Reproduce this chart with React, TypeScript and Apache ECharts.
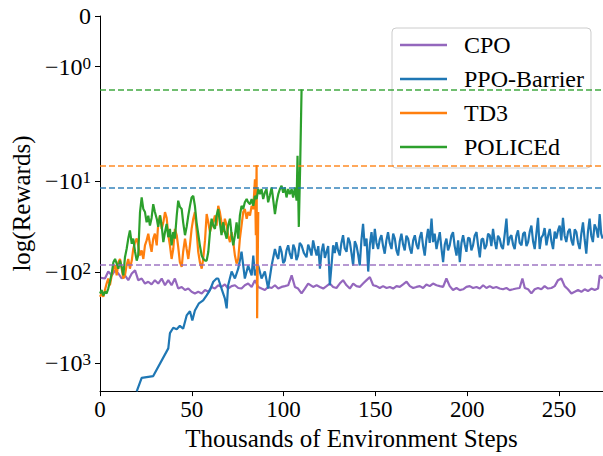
import { useEffect, useRef } from "react";
import * as echarts from "echarts";

// ---- data: [thousands of steps, reward] ----
const cpo: [number, number][] = [
  [0.5,-116],[2.7,-118],[4.5,-99],[6.4,-109],[8.2,-96],[10,-104],[11.8,-118],[13.6,-109],[15.4,-123],[17.3,-104],
  [19.1,-96],[20,-109],[20.8,-123],[22.7,-118],[24.5,-134],[26.3,-128],[28.1,-137],[29.9,-123],[31.7,-134],[33.6,-118],
  [35.4,-140],[37.2,-123],[39,-140],[40.8,-118],[42.6,-152],[44.5,-146],[46.3,-158],[48.1,-152],[49.9,-165],[51.7,-172],
  [53.5,-165],[55.4,-172],[57.2,-158],[59,-165],[60.8,-146],[62.6,-152],[64.4,-140],[66.2,-146],[68,-137],[69.8,-152],
  [71.7,-143],[73.5,-140],[75.3,-150],[77.1,-152],[78.9,-140],[80.7,-134],[82.6,-146],[84.4,-123],[86.2,-146],[88,-152],
  [89.8,-158],[91.6,-146],[93.5,-150],[95.3,-140],[97.1,-152],[98.9,-146],[100.7,-143],[102.5,-140],[104.4,-109],[106.2,-146],
  [107.9,-152],[109.8,-172],[111.6,-152],[113.4,-134],[116.1,-146],[118,-140],[119.8,-146],[121.6,-152],[123.4,-143],[125.2,-134],
  [127,-146],[128.8,-150],[130.6,-134],[132.4,-123],[134.3,-140],[136.1,-152],[137.9,-134],[139.7,-143],[141.5,-146],[143.3,-134],
  [145.2,-123],[147,-114],[148.8,-140],[150.6,-143],[152.4,-150],[154.2,-143],[156.1,-150],[157.9,-146],[159.7,-152],[161.5,-143],
  [163.3,-146],[165.1,-137],[167,-128],[168.8,-143],[170.6,-150],[172.4,-146],[174.2,-143],[176,-150],[177.8,-137],[179.6,-143],
  [181.4,-134],[183.3,-140],[185.1,-143],[186.9,-146],[188.7,-118],[190.5,-143],[192.3,-158],[194.2,-150],[196,-158],[197.8,-155],
  [199.6,-146],[201.4,-143],[203.2,-150],[205.1,-146],[206.9,-152],[208.7,-140],[210.5,-150],[212.3,-143],[214.1,-150],[215.9,-146],
  [217.7,-152],[219.5,-155],[221.4,-150],[223.2,-158],[225,-155],[226.8,-152],[228.6,-150],[230.1,-118],[231.4,-150],[233.2,-155],
  [235,-172],[236.8,-155],[238.6,-150],[240.4,-155],[242.2,-143],[244,-152],[245.9,-150],[247.7,-143],[249.5,-123],[251.3,-118],
  [253.1,-143],[254.9,-155],[256.8,-172],[258.6,-165],[260.4,-158],[262.2,-165],[264,-155],[265.8,-162],[267.7,-152],[269.5,-158],
  [271.3,-152],[272.2,-109],[273.8,-118],
];

const ppoBarrier: [number, number][] = [
  [20,-2050],[22.7,-1455],[29,-1390],[37.2,-690],[38.1,-470],[39.9,-410],[41.8,-425],[43.5,-390],[45.3,-420],[47.2,-300],
  [49,-270],[50.3,-340],[51.7,-265],[53.9,-221],[56.2,-205],[58.1,-181],[59.9,-158],[61.7,-128],[63.5,-118],[64.4,-118],
  [66.2,-152],[68,-195],[69,-251],[69.8,-140],[71.7,-99],[73.5,-118],[75.3,-92],[77.1,-60],[78.9,-118],[80.7,-85],
  [82.6,-109],[83.5,-66],[84.4,-109],[86.2,-85],[88,-118],[89.8,-99],[91.6,-152],[93.5,-85],
  [95.3,-56],[96.2,-66],[97.1,-72],[98,-52],[98.9,-60],[99.8,-80],[100.7,-75],[101.6,-58],[102.5,-51],[103.4,-63],
  [104.4,-72],[105.3,-50],[106.2,-56],[107,-74],[107.9,-66],[108.8,-48],[109.8,-51],[111.1,-62],[112.5,-69],[113.4,-50],
  [114.3,-56],[115.2,-66],[116.1,-45],[117,-55],[118,-66],[118.9,-52],[119.8,-92],[120.7,-60],[121.6,-49],[122.5,-70],
  [123.4,-60],[124.3,-52],[125.2,-140],[126.1,-85],[127,-51],[127.9,-62],[128.8,-47],[129.7,-58],[130.6,-66],[131.5,-48],
  [132.4,-39.5],[133.3,-55],[134.3,-60],[135.2,-42],[136.1,-47],[137,-62],[137.9,-85],[138.8,-46],[139.7,-51],[140.6,-64],
  [141.5,-85],[142.4,-45],[143.3,-29.7],[144.2,-52],[145.2,-43],[146.1,-99],[147,-50],[147.9,-36.5],[148.8,-56],[149.7,-33.7],
  [150.6,-48],[151.5,-56],[152.4,-44],[153.3,-39.5],[154.2,-52],[155.1,-63],[156,-45],[156.9,-36.5],[157.8,-48],[158.8,-56],
  [159.7,-38],[160.6,-43],[161.5,-58],[162.4,-66],[163.3,-46],[164.2,-38],[165.1,-50],[166,-58],[166.9,-40],[167.8,-43],
  [168.8,-55],[169.7,-63],[170.6,-45],[171.5,-39.5],[172.4,-50],[173.3,-56],[174.2,-42],[175.1,-36.5],[176,-52],[176.9,-66],
  [177.8,-44],[178.7,-33.7],[179.6,-48],[180.6,-26],[181.4,-47],[182.3,-38],[183.3,-56],[184.2,-45],[185.1,-36.5],[186,-55],
  [186.9,-78],[187.8,-50],[188.7,-43],[189.6,-58],[190.5,-51],[191.4,-40],[192.3,-36.5],[193.2,-52],[194.2,-66],[195.1,-45],
  [196,-78],[196.9,-48],[197.8,-39.5],[198.7,-50],[199.6,-60],[200.5,-42],[201.4,-43],[202.3,-58],[203.2,-51],[204.1,-40],
  [205.1,-36.5],[206,-52],[206.9,-69],[207.8,-44],[208.7,-43],[209.6,-56],[210.5,-51],[211.4,-38],[212.3,-39.5],[213.2,-52],
  [214.1,-33.7],[215,-46],[215.9,-56],[216.8,-40],[217.7,-43],[218.6,-52],[219.5,-56],[220.5,-38],[221.4,-26],[222.3,-51],
  [223.2,-42],[224.1,-39.5],[225,-50],[225.9,-56],[226.8,-40],[227.7,-35],[228.6,-48],[229.6,-51],[230.5,-38],[231.4,-36.5],
  [232.3,-52],[233.2,-47],[234.1,-36],[235,-31],[235.9,-46],[236.8,-56],[237.7,-38],[238.6,-25.5],[239.5,-56],[240.4,-42],
  [241.3,-39.5],[242.2,-33],[243.2,-51],[244.1,-40],[245,-33.7],[245.9,-46],[246.8,-56],[247.7,-36],[248.6,-43],[249.5,-35],
  [250.4,-31],[251.3,-45],[252.2,-25.5],[253.1,-40],[254,-47],[255,-36],[255.9,-33.7],[256.8,-45],[257.7,-51],[258.6,-34],
  [259.5,-36.5],[260.4,-48],[261.3,-56],[262.2,-38],[263.1,-28.5],[264,-44],[264.9,-63],[265.8,-36],[266.7,-26],[267.6,-40],
  [268.5,-47],[269.4,-30],[270.4,-33.7],[271.3,-42],[272.2,-23.1],[273,-38],[273.8,-43],
];

const td3: [number, number][] = [
  [0,-187],[0.9,-172],[1.8,-187],[2.7,-158],[3.6,-134],[4.5,-118],[5.4,-140],[6.4,-109],[7.3,-92],[8.2,-84],
  [9.1,-109],[10,-78],[10.9,-72],[11.8,-92],[12.7,-118],[13.6,-109],[14.5,-84],[15.4,-72],[16.3,-92],[17.3,-75],
  [18.1,-56],[19.1,-47],[20,-43],[20.8,-51],[21.8,-66],[22.7,-58],[23.6,-72],[24.5,-51],[25.4,-45],[26.3,-38],
  [27.2,-49],[28.1,-60],[29,-43],[29.9,-38],[30.9,-51],[31.7,-29.7],[32.7,-24],[33.6,-33.7],[34.5,-28.5],[35.4,-22],
  [36.3,-25.5],[37.2,-39.5],[38.1,-51],[39,-72],[39.9,-56],[40.8,-33.7],[41.8,-39.5],[42.6,-53],[43.5,-78],[44.5,-88],
  [45.3,-60],[46.3,-43],[47.2,-56],[48.1,-72],[49,-51],[49.9,-33.7],[50.8,-26],[51.7,-22],[52.6,-35],[53.5,-60],
  [54.4,-78],[55.4,-92],[56.2,-72],[57.2,-45],[58.1,-23.1],[59,-28.5],[59.9,-36.5],[60.8,-31],[61.7,-28.5],[62.6,-24],
  [63.5,-31],[64.4,-18.8],[65.3,-22],[66.2,-28.5],[67.1,-36.5],[68,-26],[69,-31],[69.8,-39.5],[70.8,-47],[71.7,-36.5],
  [72.6,-47],[73.5,-66],[74.4,-81],[75.3,-72],[76.2,-43],[77.1,-31],[78,-22],[78.9,-20.4],[79.9,-26],[80.7,-22],
  [81.7,-24],[82.6,-18.8],[83.5,-20.4],[84.4,-9.6],[84.9,-39.5],[85.3,-6.7],[85.6,-322],[86.2,-22],
];

const policed: [number, number][] = [
  [0,-172],[0.9,-158],[1.8,-181],[2.7,-165],[3.6,-172],[4.5,-152],[5.4,-128],[6.4,-104],[7.3,-78],[8.2,-72],
  [9.1,-81],[10,-92],[10.9,-75],[11.8,-88],[12.7,-109],[13.6,-69],[14.5,-56],[15.4,-43],[16.3,-35],[17.3,-49],
  [18.1,-43],[19.1,-60],[20,-75],[20.8,-66],[21.8,-22],[22.7,-15.2],[23.6,-20.4],[24.5,-22],[25.4,-28.5],[26.3,-24.1],
  [27.2,-31],[28.1,-25.5],[29,-18],[29.9,-22],[30.9,-26],[31.7,-32],[32.7,-24],[33.6,-31],[34.5,-47],[35.4,-36.5],
  [36.3,-29.7],[37.2,-41.5],[38.1,-33.7],[39,-51],[39.9,-36.5],[40.8,-43],[41.8,-24],[42.6,-16.5],[43.5,-19.3],[44.5,-20.4],
  [45.3,-28.5],[46.3,-39.5],[47.2,-32],[48.1,-24],[49,-18.8],[49.9,-15.2],[50.8,-14.6],[51.7,-18.8],[52.6,-28.5],[53.5,-38],
  [54.4,-51],[55.4,-66],[56.2,-71.5],[57.2,-75],[58.1,-75],[59,-60],[59.9,-36.5],[60.8,-26],[61.7,-31],[62.6,-33.7],
  [63.5,-24],[64.4,-20.4],[65.3,-28.5],[66.2,-39.5],[67.1,-28.5],[68,-36.5],[69,-43],[69.8,-31],[70.8,-26],[71.7,-39.5],
  [72.6,-51],[73.5,-39.5],[74.4,-28.5],[75.3,-43],[76.2,-24],[77.1,-18.8],[78,-20.4],[78.9,-17.2],[79.9,-15.8],[80.7,-17.2],
  [81.7,-18],[82.6,-15.8],[83.5,-18.8],[84.4,-14.6],[85.3,-15.8],[86.2,-12.3],[87.1,-14],[88,-12.3],[88.9,-15.8],[89.8,-13.5],
  [90.7,-12.3],[91.6,-17.2],[92.5,-14.6],[93.5,-11.8],[94.3,-15.8],[95.3,-23.1],[96.2,-17.2],[97.1,-14],[98,-12.3],[98.9,-11.3],
  [99.8,-13.5],[100.7,-11.8],[101.6,-15.2],[102.5,-12.3],[103.4,-14],[104.4,-12.3],[105.2,-15.2],[106.2,-11.8],[107.1,-16.5],[107.6,-5.3],
  [108.3,-32],[109,-7.5],[109.8,-1.45],
];

const seriesNames = ["CPO", "PPO-Barrier", "TD3", "POLICEd"];
const seriesColors = ["#9467bd", "#1f77b4", "#ff7f0e", "#2ca02c"];
const bestRewards = [-83, -12, -6.7, -1.45];
const xTicks = [0, 50, 100, 150, 200, 250];
const yTicks = [0, -1, -10, -100, -1000];
const X_MAX = 274;
const Y_MIN = -2032;

// symmetric log scale (linthresh 2, linscale 1, base 10)
const LIN = 2;
const LSC = 1 / 0.9;
function symlog(v: number): number {
  const a = Math.abs(v);
  const t = a <= LIN ? (a / LIN) * LSC : LSC + Math.log10(a / LIN);
  return v < 0 ? -t : t;
}

const FONT = "Liberation Serif";
const FS = 23;
const FS_NAME = 25;
const FS_LEGEND = 24;

export default function App() {
  const ref = useRef<HTMLDivElement>(null);
  useEffect(() => {
    if (!ref.current) return;
    const chart = echarts.init(ref.current, null, { renderer: "svg" });
    const all = [cpo, ppoBarrier, td3, policed];
    const yTickPos = yTicks.map(symlog);
    chart.setOption({
      animation: false,
      backgroundColor: "#ffffff",
      textStyle: { fontFamily: FONT, color: "#000" },
      grid: { left: 100, right: 0, top: 16, bottom: 63, containLabel: false },
      legend: {
        orient: "vertical",
        left: 392,
        top: 28,
        icon: "rect",
        itemWidth: 47,
        itemHeight: 2.5,
        itemGap: 10,
        padding: [5, 7, 9, 8],
        borderColor: "#cccccc",
        borderWidth: 1,
        borderRadius: 4,
        backgroundColor: "rgba(255,255,255,0.8)",
        data: seriesNames,
        textStyle: { fontFamily: FONT, fontSize: FS_LEGEND, color: "#000", lineHeight: 24, padding: [0, 0, 0, 12] },
      },
      xAxis: {
        type: "value",
        min: 0,
        max: X_MAX,
        name: "Thousands of Environment Steps",
        nameLocation: "middle",
        nameGap: 31,
        nameTextStyle: { fontFamily: FONT, fontSize: FS_NAME, color: "#000" },
        axisLine: { show: true, onZero: false, lineStyle: { color: "#000", width: 1 } },
        axisTick: { show: true, customValues: xTicks, length: 5, lineStyle: { color: "#000", width: 1 } },
        axisLabel: { customValues: xTicks, fontFamily: FONT, fontSize: FS, color: "#000", margin: 7 },
        splitLine: { show: false },
      },
      yAxis: {
        type: "value",
        min: symlog(Y_MIN),
        max: 0,
        name: "log(Rewards)",
        nameLocation: "middle",
        nameGap: 65,
        nameRotate: 90,
        nameTextStyle: { fontFamily: FONT, fontSize: FS_NAME, color: "#000" },
        axisLine: { show: true, onZero: false, lineStyle: { color: "#000", width: 1 } },
        axisTick: { show: true, customValues: yTickPos, length: 5, lineStyle: { color: "#000", width: 1 } },
        axisLabel: {
          customValues: yTickPos,
          margin: 9,
          fontFamily: FONT,
          color: "#000",
          formatter: (val: number) => {
            const i = yTickPos.findIndex((p) => Math.abs(p - val) < 1e-6);
            if (i < 0) return "";
            const t = yTicks[i];
            if (t === 0) return "{b|0}";
            return "{b|\u221210}{s|" + Math.round(Math.log10(-t)) + "}";
          },
          rich: {
            b: { fontFamily: FONT, fontSize: 24, color: "#000" },
            s: { fontFamily: FONT, fontSize: 17, color: "#000", verticalAlign: "top" },
          },
        },
        splitLine: { show: false },
      },
      series: all.map((pts, i) => ({
        name: seriesNames[i],
        type: "line",
        data: pts.map(([x, v]) => [x, symlog(v)]),
        showSymbol: false,
        symbol: "none",
        clip: true,
        lineStyle: { width: 2.2, color: seriesColors[i] },
        itemStyle: { color: seriesColors[i] },
        markLine: {
          silent: true,
          symbol: ["none", "none"],
          label: { show: false },
          lineStyle: { type: [6, 3], width: 1.6, color: seriesColors[i], opacity: 0.9 },
          data: [{ yAxis: symlog(bestRewards[i]) }],
        },
      })),
    });
    return () => chart.dispose();
  }, []);
  return (
    <div
      ref={ref}
      style={{ position: "fixed", left: 0, top: 0, width: 603, height: 456 }}
    />
  );
}
